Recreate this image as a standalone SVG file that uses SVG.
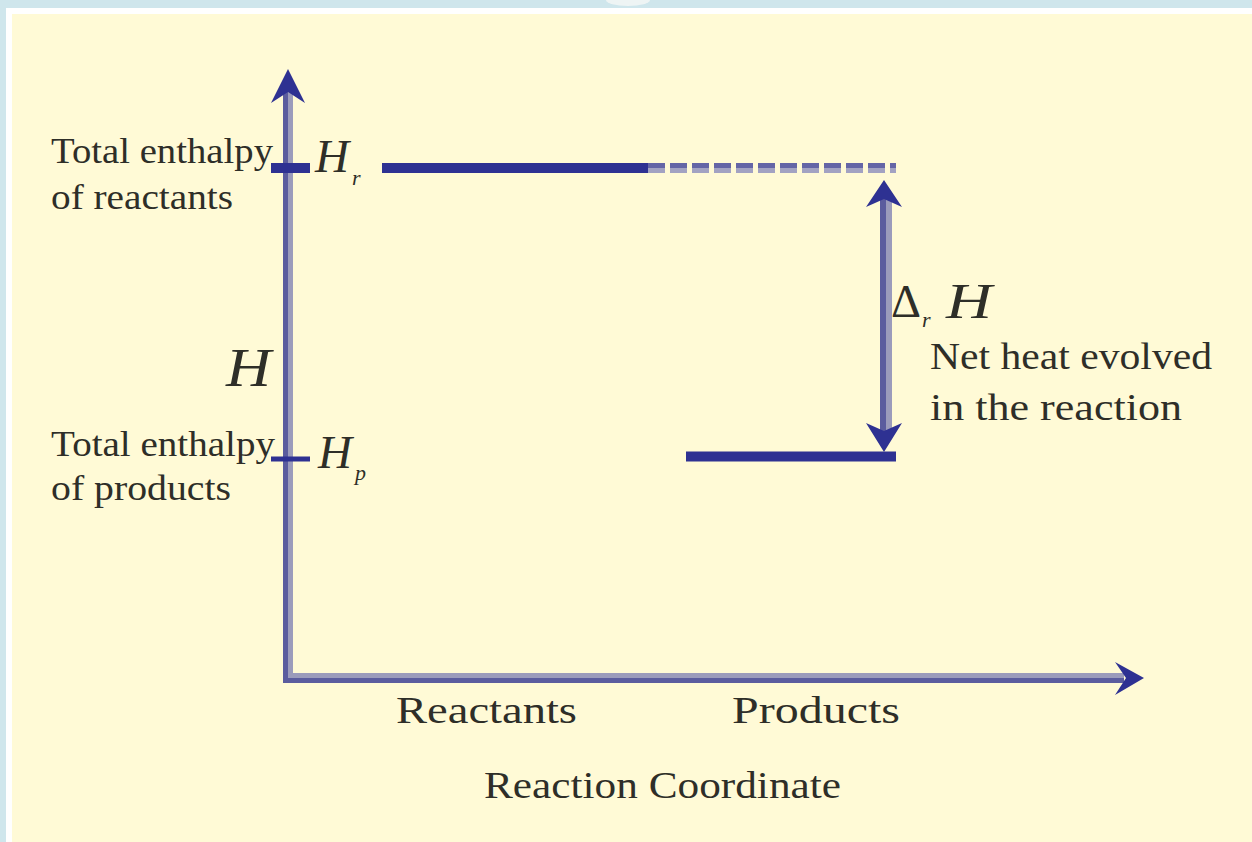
<svg xmlns="http://www.w3.org/2000/svg" width="1252" height="842" viewBox="0 0 1252 842">
  <defs>
    <style>
      .lbl { font-family: "Liberation Serif", "Times New Roman", serif; fill: #2e2e28; }
      .it { font-style: italic; }
      .lvl { stroke: #2e3192; stroke-width: 10; fill: none; }
      .head { fill: #2e3192; }
      .axd { fill: #5b5c9e; }
      .axl { fill: #9b9bbb; }
    </style>
  </defs>

  <!-- frame / background -->
  <rect x="0" y="0" width="1252" height="842" fill="#cfe6ec"/>
  <rect x="6" y="8" width="1246" height="834" fill="#ffffff"/>
  <rect x="12" y="14" width="1240" height="828" fill="#fffad6"/>
  <ellipse cx="628" cy="0" rx="22" ry="6" fill="#eef4f4"/>

  <g id="axes">
    <rect class="axd" x="283" y="92" width="5" height="591"/>
    <rect class="axl" x="288" y="92" width="5" height="586"/>
    <rect class="axl" x="288" y="673" width="836" height="5"/>
    <rect class="axd" x="283" y="678" width="841" height="5"/>
    <path class="head" d="M288,69 L305,103 L288,92 L271,103 Z"/>
    <path class="head" d="M1144,678 L1115,662 L1126,678 L1115,695 Z"/>
  </g>

  <g id="reactants-level">
    <line class="lvl" x1="271" y1="168" x2="310" y2="168"/>
    <line class="lvl" x1="382" y1="168" x2="648" y2="168"/>
    <line x1="648" y1="165.5" x2="896" y2="165.5" stroke="#6465a6" stroke-width="5" stroke-dasharray="17 5"/>
    <line x1="648" y1="170.5" x2="896" y2="170.5" stroke="#a2a2c2" stroke-width="5" stroke-dasharray="17 5"/>
  </g>

  <g id="products-level">
    <line x1="271" y1="459" x2="310" y2="459" stroke="#2e3192" stroke-width="5"/>
    <line class="lvl" x1="686" y1="456.5" x2="896" y2="456.5"/>
  </g>

  <g id="connectors">
    <rect class="axd" x="880" y="198" width="6" height="234"/>
    <rect class="axl" x="886" y="198" width="6" height="234"/>
    <path class="head" d="M884,180 L902,207 L884,199 L866,207 Z"/>
    <path class="head" d="M884,452 L902,423 L884,431 L866,423 Z"/>
  </g>

  <g id="label-reactants">
    <text class="lbl" x="51" y="163" font-size="36" textLength="222" lengthAdjust="spacingAndGlyphs">Total enthalpy</text>
    <text class="lbl" x="51" y="209" font-size="36" textLength="182" lengthAdjust="spacingAndGlyphs">of reactants</text>
    <text class="lbl it" x="315" y="172" font-size="46" textLength="34" lengthAdjust="spacingAndGlyphs">H</text>
    <text class="lbl it" x="352" y="185" font-size="22">r</text>
  </g>

  <g id="label-products">
    <text class="lbl" x="51" y="456" font-size="36" textLength="224" lengthAdjust="spacingAndGlyphs">Total enthalpy</text>
    <text class="lbl" x="51" y="500" font-size="36" textLength="180" lengthAdjust="spacingAndGlyphs">of products</text>
    <text class="lbl it" x="318" y="468" font-size="46" textLength="34" lengthAdjust="spacingAndGlyphs">H</text>
    <text class="lbl it" x="355" y="480" font-size="22">p</text>
  </g>

  <g id="label-H">
    <text class="lbl it" x="226" y="386" font-size="54" textLength="45" lengthAdjust="spacingAndGlyphs">H</text>
  </g>

  <g id="label-delta">
    <text class="lbl" x="891" y="317" font-size="46" textLength="30" lengthAdjust="spacingAndGlyphs">Δ</text>
    <text class="lbl it" x="922" y="327" font-size="22">r</text>
    <text class="lbl it" x="946" y="318" font-size="50" textLength="46" lengthAdjust="spacingAndGlyphs">H</text>
    <text class="lbl" x="930" y="369" font-size="38" textLength="282" lengthAdjust="spacingAndGlyphs">Net heat evolved</text>
    <text class="lbl" x="930" y="420" font-size="38" textLength="252" lengthAdjust="spacingAndGlyphs">in the reaction</text>
  </g>

  <g id="label-x">
    <text class="lbl" x="396" y="723" font-size="38" textLength="181" lengthAdjust="spacingAndGlyphs">Reactants</text>
    <text class="lbl" x="732" y="723" font-size="38" textLength="168" lengthAdjust="spacingAndGlyphs">Products</text>
    <text class="lbl" x="484" y="798" font-size="38" textLength="357" lengthAdjust="spacingAndGlyphs">Reaction Coordinate</text>
  </g>
</svg>
